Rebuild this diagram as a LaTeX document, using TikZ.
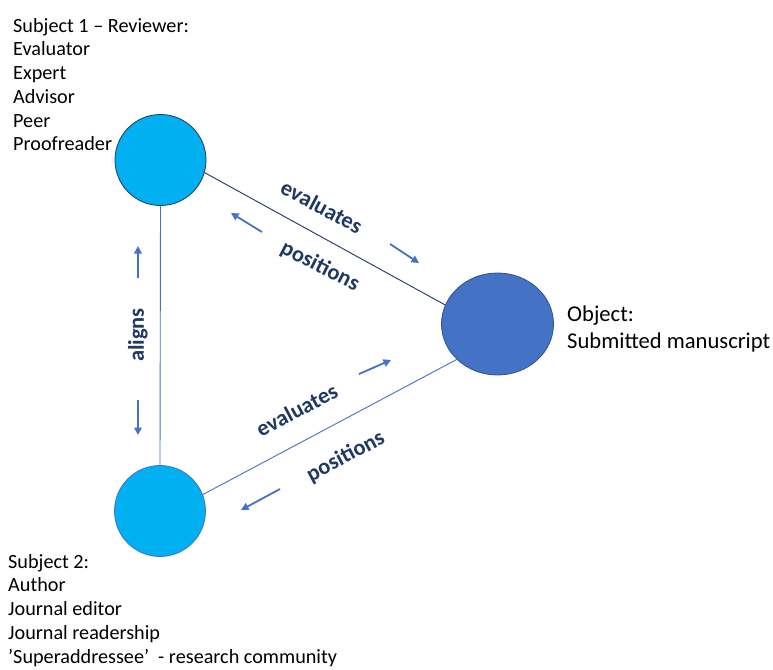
\documentclass[tikz,border=0pt]{standalone}
\usepackage{fontspec}
\setmainfont{Carlito}
\usetikzlibrary{arrows.meta,shapes.geometric}
\definecolor{cyanfill}{HTML}{00B0F0}
\definecolor{navy}{HTML}{1F3864}
\definecolor{midblue}{HTML}{4472C4}
\definecolor{objborder}{HTML}{2F528F}
\definecolor{labelnavy}{HTML}{203864}
\begin{document}
\begin{tikzpicture}[x=1pt,y=-1pt,
 subj/.style={circle,fill=cyanfill,minimum size=91pt,inner sep=0pt,line width=0.8pt},
 obj/.style={ellipse,fill=midblue,draw=objborder,minimum width=112pt,minimum height=102pt,inner sep=0pt,line width=0.8pt},
 link/.style={line width=0.9pt},
 dirarrow/.style={midblue,line width=1.8pt,-{Triangle[length=7.5pt,width=7.5pt]}},
 relabel/.style={font=\fontsize{22.5}{26}\selectfont\bfseries,text=labelnavy,inner sep=0pt},
 listtext/.style={font=\fontsize{20.2}{23.7}\selectfont,align=left,anchor=north west,inner sep=0pt}]
\useasboundingbox (0,0) rectangle (773,669);
\fill[white] (0,0) rectangle (773,669);

\node[subj,draw=navy] (s1) at (160.5,160) {};
\node[subj,draw=midblue] (s2) at (160,511) {};
\node[obj] (ob) at (497.5,324) {};

\draw[link,navy] (s1.-16) -- (ob.160);
\draw[link,midblue] (s1.south) -- (s2.north);
\draw[link,midblue] (s2.21) -- (ob.221);

% arrow end points
\coordinate (a1s) at (262,232); \coordinate (a1e) at (231,213);
\coordinate (a2s) at (390,244); \coordinate (a2e) at (419,263);
\coordinate (a3s) at (138,278); \coordinate (a3e) at (138,246);
\coordinate (a4s) at (138,400); \coordinate (a4e) at (138,435);
\coordinate (a5s) at (359,374); \coordinate (a5e) at (391,360);
\coordinate (a6s) at (280,489); \coordinate (a6e) at (241,510);
\draw[dirarrow] (a1s) -- (a1e);
\draw[dirarrow] (a2s) -- (a2e);
\draw[dirarrow] (a3s) -- (a3e);
\draw[dirarrow] (a4s) -- (a4e);
\draw[dirarrow] (a5s) -- (a5e);
\draw[dirarrow] (a6s) -- (a6e);

\node[relabel,rotate=-28] (ev1) at (321.7,206.7) {evaluates};
\node[relabel,rotate=-27] (po1) at (320,266.7) {positions};
\node[relabel,rotate=90] (al) at (138,335) {aligns};
\node[relabel,rotate=28] (ev2) at (296.7,410) {evaluates};
\node[relabel,rotate=28] (po2) at (345.7,456.7) {positions};

\node[listtext] (t1) at (13,18) {Subject 1 – Reviewer:\\Evaluator\\Expert\\Advisor\\Peer\\Proofreader};
\node[listtext] (t2) at (8,554) {Subject 2:\\Author\\Journal editor\\Journal readership\\’Superaddressee’~ - research community};
\node[listtext,font=\fontsize{22.6}{26.7}\selectfont] (t3) at (567,306) {Object:\\Submitted manuscript};
\end{tikzpicture}
\end{document}
